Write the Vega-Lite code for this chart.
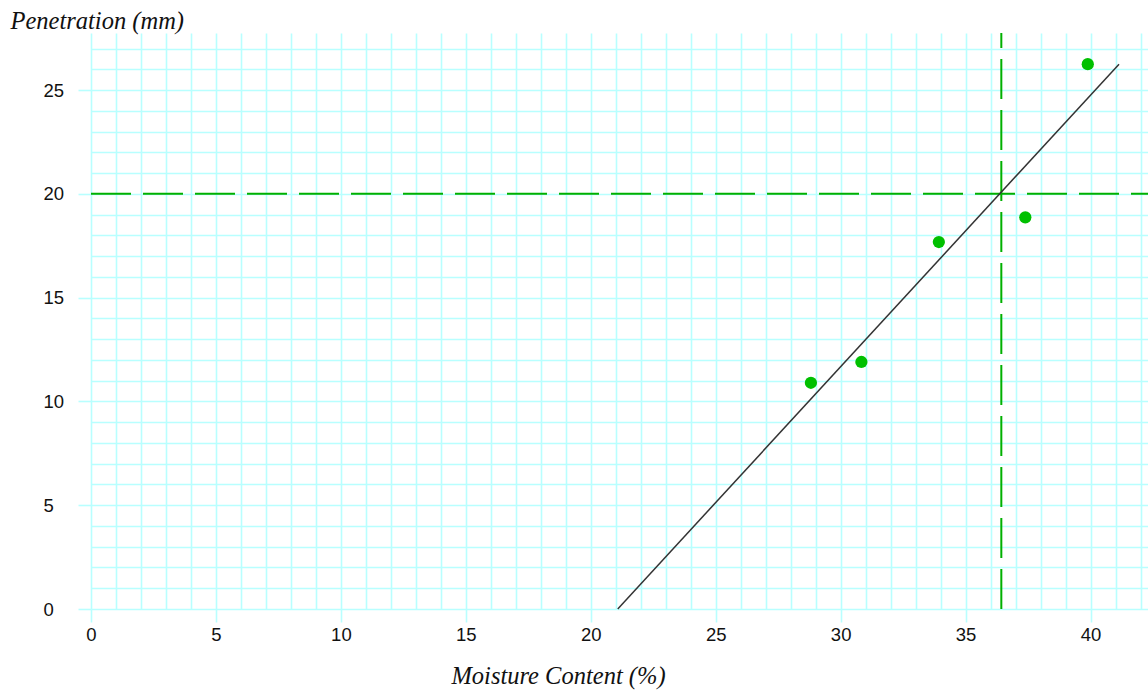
{
  "$schema": "https://vega.github.io/schema/vega-lite/v6.json",
  "width": 1057,
  "height": 576,
  "autosize": {"type": "none"},
  "padding": {"left": 91, "top": 33, "right": 0, "bottom": 83},
  "background": "white",
  "config": {"view": {"stroke": null}},
  "encoding": {
    "x": {
      "field": "x", "type": "quantitative",
      "scale": {"domain": [0, 42.3], "nice": false, "zero": false},
      "axis": {
        "title": "Moisture Content (%)",
        "values": [0,1,2,3,4,5,6,7,8,9,10,11,12,13,14,15,16,17,18,19,20,21,22,23,24,25,26,27,28,29,30,31,32,33,34,35,36,37,38,39,40,41,42],
        "labelExpr": "datum.value % 5 === 0 ? datum.label : ''",
        "domain": false,
        "grid": true, "gridColor": "#b8ffff", "gridWidth": 1.6, "gridOpacity": 1,
        "ticks": true, "tickColor": "#b8ffff", "tickWidth": 1.6, "tickSize": 13,
        "tickOpacity": {"condition": {"test": "datum.value % 5 === 0", "value": 1}, "value": 0},
        "labelFont": "Liberation Sans", "labelFontSize": 18.5, "labelColor": "#111",
        "labelPadding": 3, "labelFlush": false, "labelOverlap": false,
        "titleFont": "Liberation Serif", "titleFontStyle": "italic", "titleFontWeight": "normal",
        "titleFontSize": 24.5, "titleColor": "#111",
        "titleX": 467, "titleY": 67, "titleBaseline": "middle", "titleAlign": "center"
      }
    },
    "y": {
      "field": "y", "type": "quantitative",
      "scale": {"domain": [0, 27.75], "nice": false, "zero": false},
      "axis": {
        "title": "Penetration (mm)",
        "values": [0,1,2,3,4,5,6,7,8,9,10,11,12,13,14,15,16,17,18,19,20,21,22,23,24,25,26,27],
        "labelExpr": "datum.value % 5 === 0 ? datum.label : ''",
        "domain": false,
        "grid": true, "gridColor": "#b8ffff", "gridWidth": 1.6, "gridOpacity": 1,
        "ticks": true, "tickColor": "#b8ffff", "tickWidth": 1.6, "tickSize": 13,
        "tickOpacity": {"condition": {"test": "datum.value % 5 === 0", "value": 1}, "value": 0},
        "labelFont": "Liberation Sans", "labelFontSize": 18.5, "labelColor": "#111",
        "labelAlign": "left", "labelBaseline": "middle", "labelPadding": 35, "labelFlush": false, "labelOverlap": false,
        "titleFont": "Liberation Serif", "titleFontStyle": "italic", "titleFontWeight": "normal",
        "titleFontSize": 24.5, "titleColor": "#111", "titleAngle": 0,
        "titleX": -81, "titleY": -12, "titleBaseline": "middle", "titleAlign": "left"
      }
    }
  },
  "layer": [
    {
      "data": {"values": [{"x": 0, "x2": 42.3, "y": 20}]},
      "mark": {"type": "rule", "color": "#00b000", "strokeWidth": 2, "strokeDash": [40, 12]},
      "encoding": {"x2": {"field": "x2"}}
    },
    {
      "data": {"values": [{"x": 36.43, "y": 0, "y2": 27.75}]},
      "mark": {"type": "rule", "color": "#00b000", "strokeWidth": 2, "strokeDash": [40, 11]},
      "encoding": {"y2": {"field": "y2"}}
    },
    {
      "data": {"values": [{"x": 21.08, "y": 0}, {"x": 41.14, "y": 26.25}]},
      "mark": {"type": "line", "color": "#333333", "strokeWidth": 1.5},
      "encoding": {}
    },
    {
      "data": {"values": [
        {"x": 28.81, "y": 10.9},
        {"x": 30.83, "y": 11.9},
        {"x": 33.93, "y": 17.68},
        {"x": 37.39, "y": 18.87},
        {"x": 39.89, "y": 26.25}
      ]},
      "mark": {"type": "circle", "color": "#00c000", "size": 150, "opacity": 1},
      "encoding": {}
    }
  ]
}
